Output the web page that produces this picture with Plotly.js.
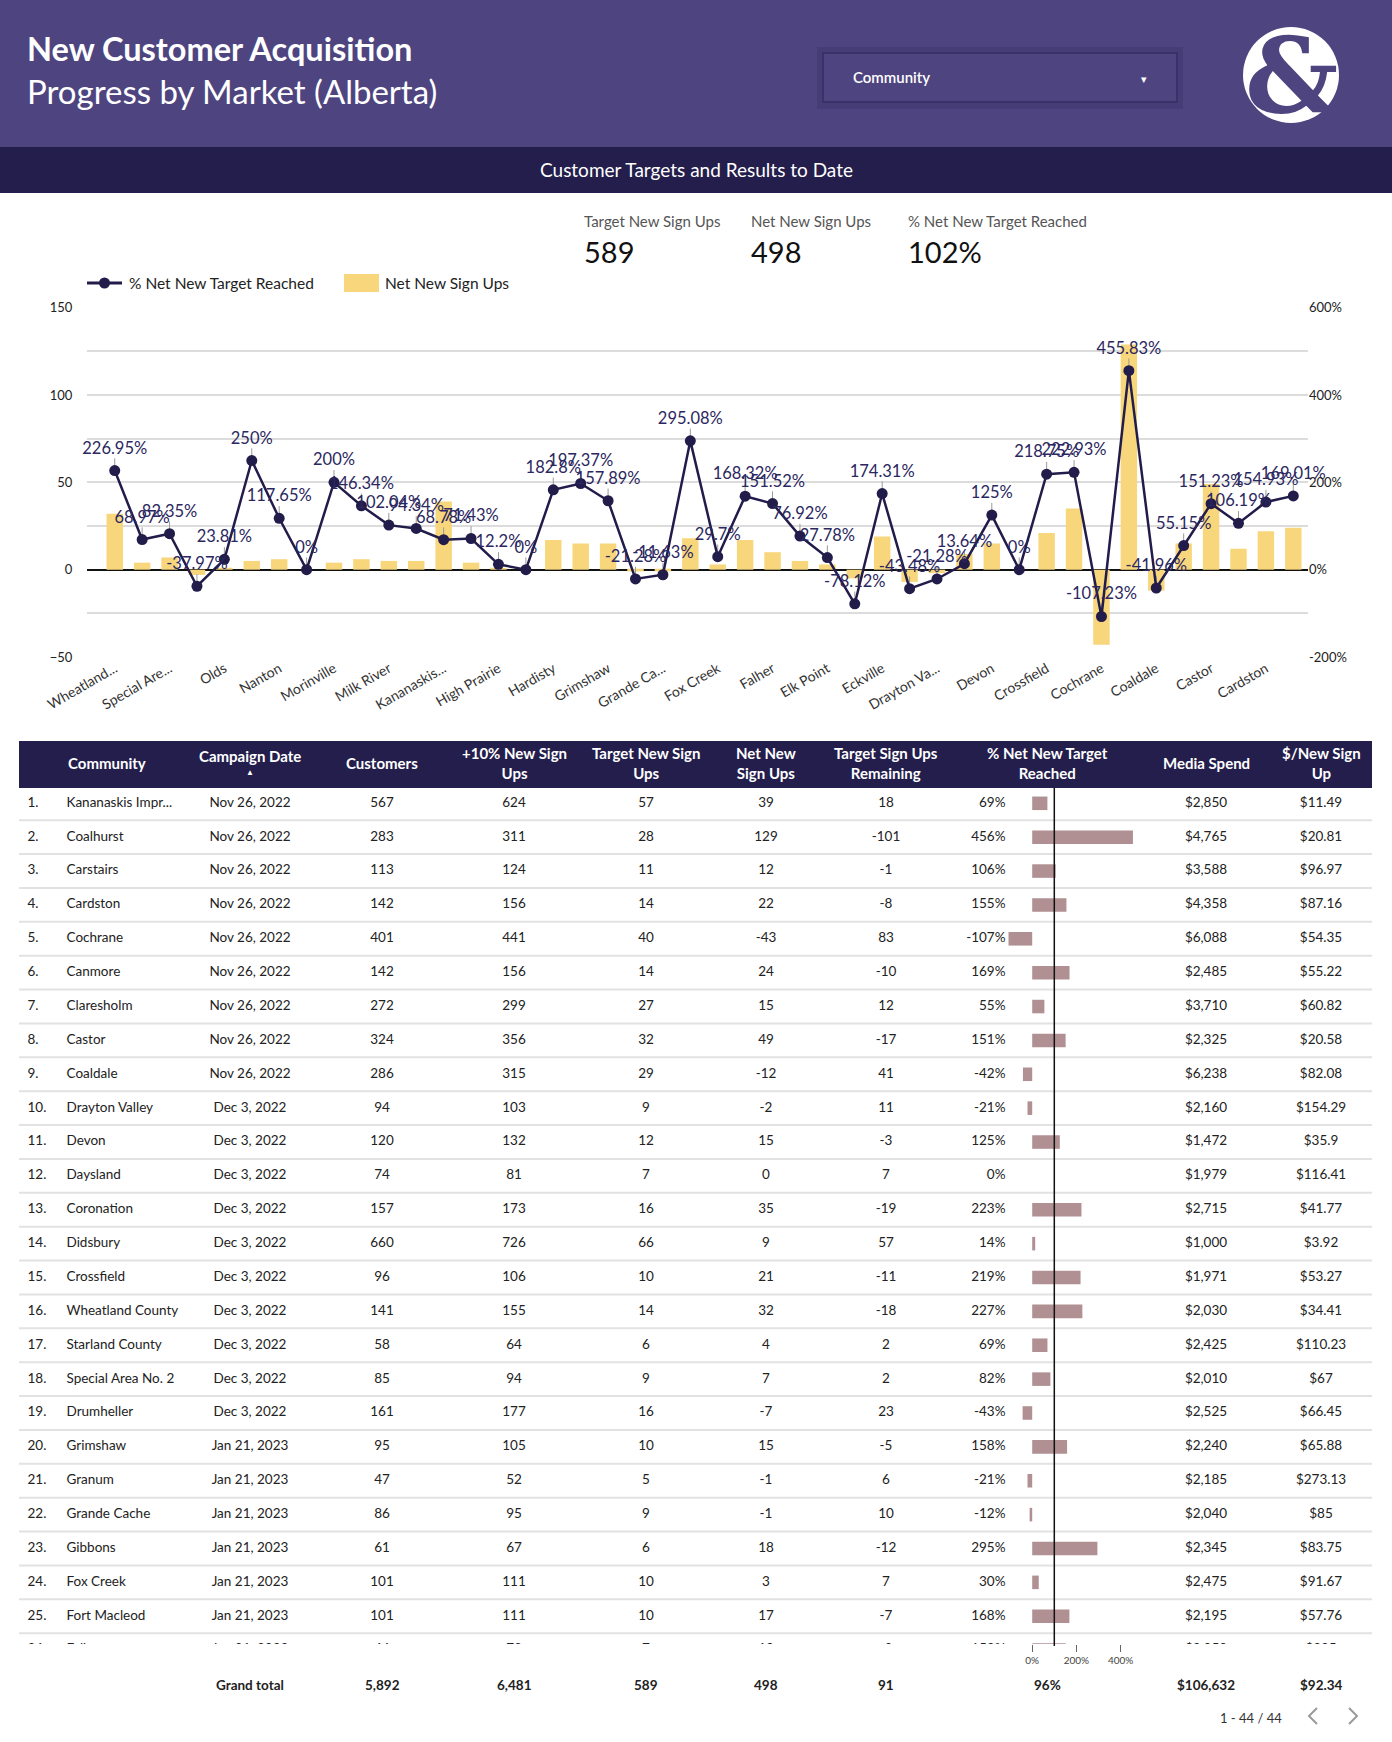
<!DOCTYPE html>
<html><head><meta charset="utf-8">
<script src="https://cdn.plot.ly/plotly-3.0.1.min.js"></script>
<style>html,body{margin:0;padding:0;background:#fff}#g{width:1392px;height:1742px}</style>
</head><body><div id="g"></div>
<script>
// ---------- Chart data (sorted by community, descending) ----------
const communities = ["Wheatland County","Starland County","Special Area No. 2","Smoky Lake","Olds","Okotoks","Nanton","Mundare","Morinville","Millet","Milk River","Magrath","Kananaskis Improvement District","Innisfail","High Prairie","High Level","Hardisty","Hanna","Grimshaw","Granum","Grande Cache","Gibbons","Fox Creek","Fort Macleod","Falher","Fairview","Elk Point","Edson","Eckville","Drumheller","Drayton Valley","Didsbury","Devon","Daysland","Crossfield","Coronation","Cochrane","Coalhurst","Coaldale","Claresholm","Castor","Carstairs","Cardston","Canmore"];
const netSignUps = [32,4,7,-3,1,5,6,0,4,6,5,5,39,4,1,0,17,15,15,-1,-1,18,3,17,10,5,3,-5,19,-7,-2,9,15,0,21,35,-43,129,-12,15,49,12,22,24];
const pctReached = [226.95,68.97,82.35,-37.97,23.81,250,117.65,0,200,146.34,102.04,94.34,68.78,71.43,12.2,0,182.8,197.37,157.89,-21.28,-11.63,295.08,29.7,168.32,151.52,76.92,27.78,-78.12,174.31,-43.48,-21.28,13.64,125,0,218.75,222.93,-107.23,455.83,-41.96,55.15,151.23,106.19,154.93,169.01];
const tickLabels = ["Wheatland...","Special Are...","Olds","Nanton","Morinville","Milk River","Kananaskis...","High Prairie","Hardisty","Grimshaw","Grande Ca...","Fox Creek","Falher","Elk Point","Eckville","Drayton Va...","Devon","Crossfield","Cochrane","Coaldale","Castor","Cardston"];

// ---------- KPI ----------
const kpiLabels = ["Target New Sign Ups","Net New Sign Ups","% Net New Target Reached"];
const kpiValues = ["589","498","102%"];

// ---------- Table data (sorted by campaign date) ----------
const rowNames = ["Kananaskis Impr...","Coalhurst","Carstairs","Cardston","Cochrane","Canmore","Claresholm","Castor","Coaldale","Drayton Valley","Devon","Daysland","Coronation","Didsbury","Crossfield","Wheatland County","Starland County","Special Area No. 2","Drumheller","Grimshaw","Granum","Grande Cache","Gibbons","Fox Creek","Fort Macleod","Falher"];
const rowDates = ["Nov 26, 2022","Nov 26, 2022","Nov 26, 2022","Nov 26, 2022","Nov 26, 2022","Nov 26, 2022","Nov 26, 2022","Nov 26, 2022","Nov 26, 2022","Dec 3, 2022","Dec 3, 2022","Dec 3, 2022","Dec 3, 2022","Dec 3, 2022","Dec 3, 2022","Dec 3, 2022","Dec 3, 2022","Dec 3, 2022","Dec 3, 2022","Jan 21, 2023","Jan 21, 2023","Jan 21, 2023","Jan 21, 2023","Jan 21, 2023","Jan 21, 2023","Jan 21, 2023"];
const rowCustomers = [567,283,113,142,401,142,272,324,286,94,120,74,157,660,96,141,58,85,161,95,47,86,61,101,101,66];
const rowPlus10 = [624,311,124,156,441,156,299,356,315,103,132,81,173,726,106,155,64,94,177,105,52,95,67,111,111,73];
const rowTarget = [57,28,11,14,40,14,27,32,29,9,12,7,16,66,10,14,6,9,16,10,5,9,6,10,10,7];
const rowNet = [39,129,12,22,-43,24,15,49,-12,-2,15,0,35,9,21,32,4,7,-7,15,-1,-1,18,3,17,10];
const rowRemaining = [18,-101,-1,-8,83,-10,12,-17,41,11,-3,7,-19,57,-11,-18,2,2,23,-5,6,10,-12,7,-7,-3];
const rowPct = [68.78,455.83,106.19,154.93,-107.23,169.01,55.15,151.23,-41.96,-21.28,125,0,222.93,13.64,218.75,226.95,68.97,82.35,-43.48,157.89,-21.28,-11.63,295.08,29.7,168.32,151.52];
const rowMedia = ["$2,850","$4,765","$3,588","$4,358","$6,088","$2,485","$3,710","$2,325","$6,238","$2,160","$1,472","$1,979","$2,715","$1,000","$1,971","$2,030","$2,425","$2,010","$2,525","$2,240","$2,185","$2,040","$2,345","$2,475","$2,195","$2,050"];
const rowPerSignUp = ["$11.49","$20.81","$96.97","$87.16","$54.35","$55.22","$60.82","$20.58","$82.08","$154.29","$35.9","$116.41","$41.77","$3.92","$53.27","$34.41","$110.23","$67","$66.45","$65.88","$273.13","$85","$83.75","$91.67","$57.76","$205"];
const headerLabels = ["Community","Campaign Date","Customers","+10% New Sign<br>Ups","Target New Sign<br>Ups","Net New<br>Sign Ups","Target Sign Ups<br>Remaining","% Net New Target<br>Reached","Media Spend","$/New Sign<br>Up"];
const grandTotal = ["5,892","6,481","589","498","91","96%","$106,632","$92.34"];
const pagerText = "1 - 44 / 44";

// ---------- helpers ----------
const W = 1392, H = 1742;
const fx = x => x / W, fy = y => 1 - y / H;
const FONT = "Lato, 'Open Sans', sans-serif";
const NAVY = "#221c4b", HEAD = "#4e4580", BAND = "#231e4b";
const fmtPct = v => (Math.round(v * 100) / 100) + "%";

const shapes = [], annotations = [];
function rect(x0, y0, x1, y1, fill, line) {
  shapes.push({type: "rect", xref: "paper", yref: "paper", x0: fx(x0), x1: fx(x1), y0: fy(y1), y1: fy(y0),
    fillcolor: fill, line: line || {width: 0}, layer: "below"});
}
function txt(x, y, text, opt) {
  opt = opt || {};
  annotations.push({xref: "paper", yref: "paper", x: fx(x), y: fy(y), text: text, showarrow: false,
    xanchor: opt.xa || "left", yanchor: "middle", align: opt.align || "left",
    font: {family: opt.family || FONT, size: opt.size || 14, color: opt.color || "#222", weight: opt.weight || 400}});
}
function pline(pts, color, width) {
  shapes.push({type: "path", xref: "paper", yref: "paper",
    path: pts.map((p, i) => (i ? "L" : "M") + fx(p[0]) + "," + fy(p[1])).join(" "),
    line: {color: color, width: width}});
}

// header
rect(0, 0, W, 147, HEAD);
rect(0, 147, W, 193, BAND);
txt(25, 48, "New Customer Acquisition", {size: 32.5, color: "#fff", weight: 700});
txt(25, 91, "Progress by Market (Alberta)", {size: 33, color: "#fff"});
rect(817, 47, 1183, 109, "#463d77");
rect(823, 53, 1177, 102, HEAD, {color: "#3a3168", width: 2});
txt(851, 77, "Community", {size: 15, color: "#fff", weight: 600});
txt(1144, 78, "▾", {size: 11, color: "#fff", xa: "center"});
shapes.push({type: "circle", xref: "paper", yref: "paper", x0: fx(1243), x1: fx(1339), y0: fy(123), y1: fy(27), fillcolor: "#fff", line: {width: 0}});
txt(1292, 76, "&", {size: 104, color: HEAD, xa: "center", weight: 700, family: "'DejaVu Serif', serif"});
txt(696, 170, "Customer Targets and Results to Date", {size: 19, color: "#fff", xa: "center"});

// KPIs
const kpiX = [582, 749, 906];
kpiLabels.forEach((l, i) => {
  txt(kpiX[i], 221, l, {size: 15, color: "#555"});
  txt(kpiX[i], 251, kpiValues[i], {size: 29, color: "#111"});
});

// legend (custom)
shapes.push({type: "line", xref: "paper", yref: "paper", x0: fx(87), x1: fx(122), y0: fy(283), y1: fy(283), line: {color: NAVY, width: 3}});
shapes.push({type: "circle", xref: "paper", yref: "paper", x0: fx(99), x1: fx(110), y0: fy(288.5), y1: fy(277.5), fillcolor: NAVY, line: {width: 0}});
txt(127, 283, "% Net New Target Reached", {size: 15.5, color: "#222"});
rect(344, 274, 379, 292, "#f8d67c");
txt(383, 283, "Net New Sign Ups", {size: 15.5, color: "#222"});

// ---------- table decoration ----------
rect(19, 741, 1372, 788, BAND);
const headX = [66, 250, 382, 514, 646, 766, 886, 1047, 1206, 1321];
headerLabels.forEach((h, i) => {
  if (i === 1) {
    txt(headX[i], 756, h, {size: 15, color: "#fff", weight: 700, xa: "center"});
    txt(headX[i], 772, "▲", {size: 8, color: "#fff", xa: "center"});
  } else {
    txt(headX[i], 763, h, {size: 15, color: "#fff", weight: 700, xa: i === 0 ? "left" : "center", align: "center"});
  }
});
for (let r = 1; r <= 25; r++) {
  shapes.push({type: "line", xref: "paper", yref: "y3", x0: fx(19), x1: fx(1372), y0: r + 0.5, y1: r + 0.5,
    line: {color: "#e2e2e2", width: 2}});
}
shapes.push({type: "line", xref: "x4", yref: "paper", x0: 100, x1: 100, y0: fy(1646), y1: fy(788), line: {color: "#111", width: 1.5}});

// grand total
txt(250, 1685, "Grand total", {size: 13.5, weight: 700, xa: "center"});
const totX = [382, 514, 646, 766, 886, 1047, 1206, 1321];
grandTotal.forEach((t, i) => txt(totX[i], 1685, t, {size: 13.5, weight: 700, xa: "center"}));
txt(1251, 1718, pagerText, {size: 13, color: "#333", xa: "center"});
pline([[1317, 1708], [1309, 1716], [1317, 1724]], "#9a9a9a", 2);
pline([[1349, 1708], [1357, 1716], [1349, 1724]], "#9a9a9a", 2);

// ---------- traces ----------
const traces = [];
traces.push({type: "bar", x: communities, y: netSignUps, xaxis: "x", yaxis: "y", width: 0.6,
  marker: {color: "#f8d67c"}, name: "Net New Sign Ups", hoverinfo: "x+y"});
traces.push({type: "scatter", mode: "lines+markers", x: communities, y: pctReached, xaxis: "x", yaxis: "y2",
  name: "% Net New Target Reached", cliponaxis: false,
  line: {color: NAVY, width: 2.5}, marker: {color: NAVY, size: 11},
  error_y: {type: "data", symmetric: false, array: pctReached.map(() => 28), arrayminus: pctReached.map(() => 0),
    color: "#9a9a9a", thickness: 1, width: 0}});
// data labels (invisible larger markers give the label offset)
traces.push({type: "scatter", mode: "markers+text", x: communities, y: pctReached, xaxis: "x", yaxis: "y2",
  text: pctReached.map(fmtPct), textposition: "top center", cliponaxis: false, hoverinfo: "skip",
  textfont: {family: FONT, size: 16.5, color: "#2b2760"}, marker: {size: 19, opacity: 0, color: NAVY}});

const rowsY = rowNames.map((_, i) => i + 1);
function col(x, values, pos) {
  traces.push({type: "scatter", mode: "text", xaxis: "x3", yaxis: "y3", x: rowsY.map(() => x), y: rowsY,
    text: values, textposition: pos || "middle center", cliponaxis: true, hoverinfo: "skip",
    textfont: {family: FONT, size: 13.5, color: "#222"}});
}
col(27.5, rowsY.map(r => r + "."), "middle right");
col(66.5, rowNames, "middle right");
col(250, rowDates);
col(382, rowCustomers.map(String));
col(514, rowPlus10.map(String));
col(646, rowTarget.map(String));
col(766, rowNet.map(String));
col(886, rowRemaining.map(String));
col(1005.5, rowPct.map(v => Math.round(v) + "%"), "middle left");
col(1206, rowMedia);
col(1321, rowPerSignUp);
traces.push({type: "bar", orientation: "h", x: rowPct, y: rowsY, xaxis: "x4", yaxis: "y3", width: 0.4,
  marker: {color: "#b09093"}, hoverinfo: "x"});

// ---------- layout ----------
const catIndexLabels = communities.filter((_, i) => i % 2 === 0);
const layout = {
  width: W, height: H, margin: {l: 0, r: 0, t: 0, b: 0}, paper_bgcolor: "#fff", plot_bgcolor: "rgba(0,0,0,0)",
  showlegend: false, font: {family: FONT, color: "#222"}, bargap: 0.4, hovermode: "closest",
  xaxis: {domain: [fx(87), fx(1308)], anchor: "y", type: "category", categoryorder: "array", categoryarray: communities,
    range: [-1.012, 43.536], tickvals: catIndexLabels, ticktext: tickLabels, tickangle: -30,
    tickfont: {size: 14, color: "#333"}, showgrid: false, zeroline: false, showline: false, ticks: ""},
  yaxis: {domain: [fy(657), fy(307.7)], anchor: "x", range: [-50, 150], tick0: -50, dtick: 50,
    showgrid: true, gridcolor: "#dcdcdc", gridwidth: 1.5,
    minor: {dtick: 25, showgrid: true, gridcolor: "#dcdcdc", gridwidth: 1.5, ticks: ""},
    zeroline: true, zerolinecolor: "#111", zerolinewidth: 2,
    ticks: "outside", ticklen: 11, tickcolor: "rgba(0,0,0,0)", tickfont: {size: 13, color: "#222"}},
  yaxis2: {overlaying: "y", side: "right", anchor: "x", range: [-200, 600], tickvals: [-200, 0, 200, 400, 600],
    ticktext: ["-200%", "0%", "200%", "400%", "600%"], showgrid: false, zeroline: false,
    ticks: "", tickfont: {size: 13, color: "#222"}},
  xaxis3: {domain: [0, 1], anchor: "y3", range: [0, W], visible: false, fixedrange: true},
  yaxis3: {domain: [fy(1644), fy(788)], anchor: "x3", range: [25.82, 0.548], visible: false, fixedrange: true},
  xaxis4: {domain: [fx(990), fx(1140)], anchor: "y3", range: [-190.95, 487.8], tickvals: [0, 200, 400],
    ticktext: ["0%", "200%", "400%"], ticks: "outside", ticklen: 7, tickcolor: "#666",
    tickfont: {size: 10, color: "#444"}, showgrid: false, zeroline: false, showline: false, fixedrange: true},
  shapes: shapes, annotations: annotations
};
Plotly.newPlot("g", traces, layout, {displayModeBar: false});
</script></body></html>
